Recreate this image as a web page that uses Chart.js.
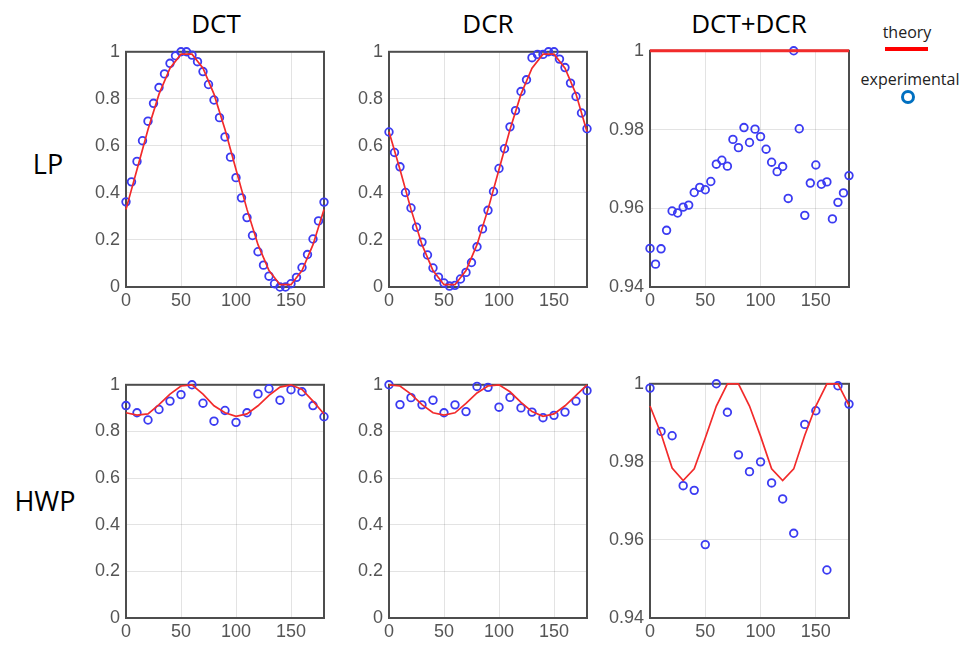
<!DOCTYPE html>
<html>
<head>
<meta charset="utf-8">
<script src="https://cdn.jsdelivr.net/npm/chart.js@4.4.1/dist/chart.umd.min.js"></script>
<style>
  body { margin: 0; background: #fff; width: 961px; height: 645px; position: relative; overflow: hidden; font-family: "Open Sans", "Noto Sans", sans-serif; }
  canvas { position: absolute; }
  .lbl { position: absolute; transform: translate(-50%, -50%); white-space: nowrap; color: #000; }
  .title { font-size: 26px; }
  .row { font-size: 27px; }
  .leg { font-size: 16px; color: #222; }
  #leg-line { position: absolute; left: 885px; top: 47px; width: 43px; height: 4px; background: #ff0000; }
  #leg-dot { position: absolute; left: 901px; top: 90px; width: 8px; height: 8px; border: 3px solid #0070c0; border-radius: 50%; }
</style>
</head>
<body>
<div class="lbl title" style="left:216px;top:23px">DCT</div>
<div class="lbl title" style="left:488px;top:23px">DCR</div>
<div class="lbl title" style="left:749px;top:23px">DCT+DCR</div>
<div class="lbl row" style="left:48px;top:163px">LP</div>
<div class="lbl row" style="left:45px;top:500px">HWP</div>
<div class="lbl leg" style="left:907px;top:32px">theory</div>
<div id="leg-line"></div>
<div class="lbl leg" style="left:910px;top:79px">experimental</div>
<div id="leg-dot"></div>

<script>
// angles (degrees)
const angles5 = [0, 5, 10, 15, 20, 25, 30, 35, 40, 45, 50, 55, 60, 65, 70, 75, 80, 85, 90,
  95, 100, 105, 110, 115, 120, 125, 130, 135, 140, 145, 150, 155, 160, 165, 170, 175, 180];
const angles10 = [0, 10, 20, 30, 40, 50, 60, 70, 80, 90, 100, 110, 120, 130, 140, 150, 160, 170, 180];

// LP row
const lpDctExp = [0.362, 0.447, 0.534, 0.622, 0.705, 0.781, 0.848, 0.906, 0.951, 0.983, 1.0, 1.0, 0.986,
  0.958, 0.916, 0.861, 0.795, 0.72, 0.638, 0.552, 0.465, 0.379, 0.295, 0.219, 0.15, 0.093, 0.046, 0.014,
  0.0, 0.0, 0.014, 0.041, 0.083, 0.138, 0.204, 0.281, 0.361];
const lpDctTheory = [0.33, 0.5, 0.67, 0.82, 0.93, 0.99, 0.99, 0.93, 0.82, 0.67, 0.5, 0.33, 0.18, 0.07,
  0.01, 0.01, 0.07, 0.18, 0.33];

const lpDcrExp = [0.659, 0.572, 0.511, 0.402, 0.336, 0.254, 0.191, 0.136, 0.081, 0.042, 0.017, 0.004, 0.007,
  0.034, 0.062, 0.104, 0.171, 0.247, 0.326, 0.406, 0.504, 0.588, 0.681, 0.75, 0.831, 0.881, 0.975, 0.989,
  0.989, 1.0, 1.0, 0.969, 0.933, 0.867, 0.81, 0.74, 0.673];
const lpDcrTheory = [0.66, 0.5, 0.33, 0.18, 0.07, 0.01, 0.01, 0.07, 0.18, 0.33, 0.5, 0.67, 0.82, 0.93,
  0.99, 0.99, 0.93, 0.82, 0.66];

const lpSumExp = [0.9498, 0.9458, 0.9497, 0.9544, 0.9593, 0.9588, 0.9603, 0.9608, 0.964, 0.9653, 0.9647,
  0.9668, 0.9712, 0.9722, 0.9707, 0.9775, 0.9754, 0.9805, 0.9767, 0.9801, 0.9782, 0.975, 0.9717, 0.9693,
  0.9706, 0.9625, 1.0, 0.9802, 0.9582, 0.9664, 0.971, 0.9661, 0.9667, 0.9573, 0.9615, 0.9639, 0.9683];
const lpSumTheory = [1, 1, 1, 1, 1, 1, 1, 1, 1, 1, 1, 1, 1, 1, 1, 1, 1, 1, 1];

// HWP row
const hwpDctExp = [0.911, 0.88, 0.849, 0.894, 0.93, 0.958, 1.0, 0.921, 0.844, 0.89, 0.839, 0.88, 0.961,
  0.983, 0.934, 0.979, 0.97, 0.911, 0.863];
const hwpDctTheory = [0.88, 0.87, 0.875, 0.915, 0.96, 0.995, 1.0, 0.96, 0.91, 0.88, 0.865, 0.875, 0.91,
  0.955, 0.99, 1.0, 0.98, 0.93, 0.875];

const hwpDcrExp = [1.0, 0.915, 0.945, 0.914, 0.934, 0.88, 0.914, 0.885, 0.993, 0.989, 0.904, 0.946, 0.901,
  0.883, 0.859, 0.869, 0.883, 0.93, 0.975];
const hwpDcrTheory = [1.0, 0.995, 0.96, 0.915, 0.88, 0.87, 0.88, 0.92, 0.965, 0.995, 1.0, 0.97, 0.925,
  0.885, 0.865, 0.875, 0.91, 0.955, 1.0];

const hwpSumExp = [0.9989, 0.9878, 0.9867, 0.9739, 0.9727, 0.9588, 1.0, 0.9927, 0.9818, 0.9775, 0.98,
  0.9746, 0.9705, 0.9617, 0.9896, 0.9931, 0.9523, 0.9995, 0.9948];
const hwpSumTheory = [0.9943, 0.9872, 0.9784, 0.9752, 0.9782, 0.9861, 0.9943, 1.0, 1.0, 0.9943, 0.9866,
  0.9782, 0.9752, 0.9782, 0.9868, 0.9943, 1.0, 1.0, 0.9945];

// tick labels
const xTicks = [0, 50, 100, 150];
const yTicksFull = [0, 0.2, 0.4, 0.6, 0.8, 1];
const yTicksFine = [0.94, 0.96, 0.98, 1];

const RED = '#f22b2b';
const BLUE = '#3b3bf2';
const TICK_FONT = { family: '"Liberation Sans", Arial, sans-serif', size: 18 };

// axes box, drawn under the marks so the red line at 1 stays visible
const framePlugin = {
  id: 'frame',
  beforeDatasetsDraw(chart) {
    const { ctx, chartArea: a } = chart;
    ctx.save();
    ctx.strokeStyle = '#4d4d4d';
    ctx.lineWidth = 2;
    ctx.strokeRect(a.left, a.top, a.right - a.left, a.bottom - a.top);
    ctx.restore();
  },
};

function pairs(xs, ys) {
  return xs.map((x, i) => ({ x, y: ys[i] }));
}

function fmt(v) {
  return String(Number(v.toFixed(2)));
}

function makePanel(p) {
  const Y_W = 60, X_H = 34, PAD = 14;
  const cw = p.w + Y_W + PAD;
  const ch = p.h + PAD + X_H;
  const canvas = document.createElement('canvas');
  canvas.width = cw;
  canvas.height = ch;
  canvas.style.left = (p.left - Y_W) + 'px';
  canvas.style.top = (p.top - PAD) + 'px';
  canvas.style.width = cw + 'px';
  canvas.style.height = ch + 'px';
  document.body.appendChild(canvas);

  new Chart(canvas, {
    type: 'scatter',
    data: {
      datasets: [
        {
          label: 'theory',
          data: pairs(angles10, p.theory),
          showLine: true,
          borderColor: RED,
          borderWidth: p.thick ? 3 : 1.7,
          pointRadius: 0,
          tension: 0,
          clip: 4,
        },
        {
          label: 'experimental',
          data: pairs(p.xs, p.exp),
          showLine: false,
          pointStyle: 'circle',
          pointRadius: 3.8,
          borderWidth: 1.8,
          borderColor: BLUE,
          backgroundColor: 'rgba(0,0,0,0)',
          clip: false,
        },
      ],
    },
    options: {
      responsive: false,
      animation: false,
      layout: { padding: { top: PAD, right: PAD, left: 0, bottom: 0 } },
      plugins: { legend: { display: false }, tooltip: { enabled: false } },
      scales: {
        x: {
          type: 'linear',
          min: 0,
          max: 180,
          afterFit: (s) => { s.height = X_H; },
          afterBuildTicks: (s) => { s.ticks = xTicks.map((v) => ({ value: v })); },
          grid: { color: 'rgba(0,0,0,0.11)', drawTicks: false },
          border: { display: false },
          ticks: { padding: 3, color: '#555', font: TICK_FONT, maxRotation: 0, callback: fmt },
        },
        y: {
          type: 'linear',
          min: p.yTicks[0],
          max: p.yTicks[p.yTicks.length - 1],
          afterFit: (s) => { s.width = Y_W; },
          afterBuildTicks: (s) => { s.ticks = p.yTicks.map((v) => ({ value: v })); },
          grid: { color: 'rgba(0,0,0,0.11)', drawTicks: false },
          border: { display: false },
          ticks: { padding: 6, color: '#555', font: TICK_FONT, callback: fmt },
        },
      },
    },
    plugins: [framePlugin],
  });
}

const panels = [
  { left: 126, top: 49, w: 198, h: 238, xs: angles5, exp: lpDctExp, theory: lpDctTheory, yTicks: yTicksFull },
  { left: 389, top: 49, w: 198, h: 238, xs: angles5, exp: lpDcrExp, theory: lpDcrTheory, yTicks: yTicksFull },
  { left: 650, top: 48, w: 199, h: 239, xs: angles5, exp: lpSumExp, theory: lpSumTheory, yTicks: yTicksFine, thick: true },
  { left: 126, top: 382, w: 198, h: 236, xs: angles10, exp: hwpDctExp, theory: hwpDctTheory, yTicks: yTicksFull },
  { left: 389, top: 382, w: 198, h: 236, xs: angles10, exp: hwpDcrExp, theory: hwpDcrTheory, yTicks: yTicksFull },
  { left: 650, top: 381, w: 199, h: 237, xs: angles10, exp: hwpSumExp, theory: hwpSumTheory, yTicks: yTicksFine },
];

panels.forEach(makePanel);
</script>
</body>
</html>
